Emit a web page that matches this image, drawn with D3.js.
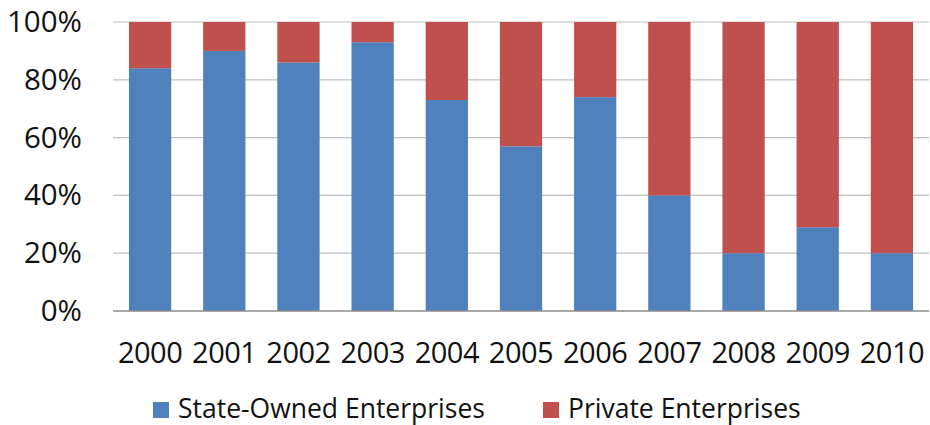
<!DOCTYPE html>
<html>
<head>
<meta charset="utf-8">
<script src="https://cdn.jsdelivr.net/npm/d3@7"></script>
<style>
  html, body { margin: 0; padding: 0; background: #fff; }
  svg { display: block; font-family: "Open Sans", "Noto Sans", sans-serif; }
</style>
</head>
<body>
<svg id="chart" width="930" height="425"></svg>
<script>
// Ownership share of enterprises, by year (percent)
const years = ["2000", "2001", "2002", "2003", "2004", "2005", "2006", "2007", "2008", "2009", "2010"];
const stateOwned = [84, 90, 86, 93, 73, 57, 74, 40, 20, 29, 20];
const privateEnt = [16, 10, 14, 7, 27, 43, 26, 60, 80, 71, 80];
const seriesNames = ["State-Owned Enterprises", "Private Enterprises"];
const seriesColors = ["#4F81BD", "#C0504D"];
const yTicks = [0, 20, 40, 60, 80, 100];

const svg = d3.select("#chart");
const margin = { top: 22, right: 1, bottom: 114, left: 113 };
const width = 930 - margin.left - margin.right;
const height = 425 - margin.top - margin.bottom;

const g = svg.append("g").attr("transform", `translate(${margin.left},${margin.top})`);

const x = d3.scaleBand().domain(years).range([0, width]).paddingInner(0.43).paddingOuter(0.215);
const y = d3.scaleLinear().domain([0, 100]).range([height, 0]);

// horizontal gridlines
g.append("g")
  .selectAll("line")
  .data(yTicks.filter(t => t > 0))
  .join("line")
  .attr("x1", 0).attr("x2", width)
  .attr("y1", d => y(d)).attr("y2", d => y(d))
  .attr("stroke", "#bfbfbf").attr("stroke-width", 1.2);

// stacked bars
const rows = years.map((yr, i) => ({ year: yr, s0: stateOwned[i], s1: privateEnt[i] }));
const stack = d3.stack().keys(["s0", "s1"]);
const layers = stack(rows);

g.append("g")
  .selectAll("g")
  .data(layers)
  .join("g")
  .attr("fill", (d, i) => seriesColors[i])
  .selectAll("rect")
  .data(d => d)
  .join("rect")
  .attr("x", d => x(d.data.year))
  .attr("width", x.bandwidth())
  .attr("y", d => y(d[1]))
  .attr("height", d => y(d[0]) - y(d[1]));

// baseline
g.append("line")
  .attr("x1", 0).attr("x2", width)
  .attr("y1", y(0)).attr("y2", y(0))
  .attr("stroke", "#8c8c8c").attr("stroke-width", 1.5);

// y-axis labels
const yAxis = g.append("g")
  .attr("transform", "translate(-31,0)")
  .call(d3.axisLeft(y).tickValues(yTicks).tickFormat(d => d + "%").tickSize(0).tickPadding(0));
yAxis.select(".domain").remove();
yAxis.selectAll("text")
  .attr("font-size", 29.5)
  .attr("fill", "#111")
  .attr("font-family", "Open Sans, sans-serif");

// x-axis labels
const xAxis = g.append("g")
  .attr("transform", `translate(0,${height})`)
  .call(d3.axisBottom(x).tickSize(0).tickPadding(31));
xAxis.select(".domain").remove();
xAxis.selectAll("text")
  .attr("font-size", 29)
  .attr("fill", "#111")
  .attr("font-family", "Open Sans, sans-serif")
  .attr("letter-spacing", -0.5);

// legend
const legendPos = [153, 543];
const legend = svg.append("g");
seriesNames.forEach((name, i) => {
  const lg = legend.append("g").attr("transform", `translate(${legendPos[i]},402)`);
  lg.append("rect").attr("width", 16).attr("height", 16).attr("fill", seriesColors[i]);
  lg.append("text")
    .attr("x", 25).attr("y", 16)
    .attr("font-size", 26.5)
    .attr("fill", "#111")
    .text(name);
});
</script>
</body>
</html>
